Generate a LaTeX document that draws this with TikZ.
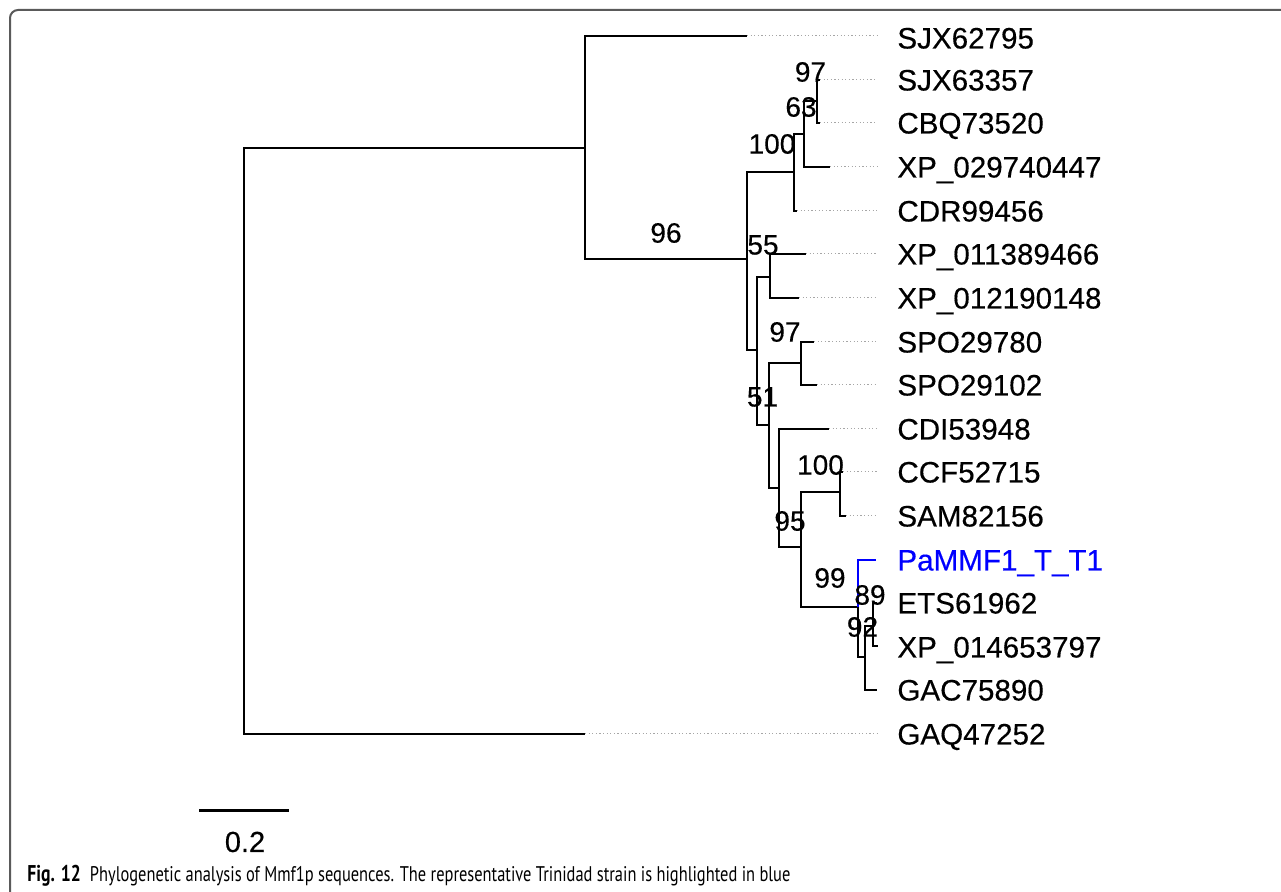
\documentclass[tikz,border=0pt]{standalone}
\usepackage{fontspec}
\setmainfont{Liberation Sans}
\newfontfamily\treefont[FakeBold=0.35]{Liberation Sans}
\newfontfamily\capfont{PT Sans}
\usetikzlibrary{calc}
\definecolor{mblue}{RGB}{0,0,255}
\definecolor{framegray}{RGB}{90,90,90}
\tikzset{
  br/.style={line width=1.05pt, black},
  bluebr/.style={line width=1.05pt, mblue},
  dots/.style={line width=0.5pt, gray!70, dash pattern=on 0.6pt off 1.2pt, shorten >=10pt},
  leaf/.style={anchor=base west, inner sep=0pt, font=\treefont\fontsize{14.8}{16}\selectfont},
  boot/.style={inner sep=0pt, font=\treefont\fontsize{14}{16}\selectfont},
  framestyle/.style={line width=1pt, framegray, rounded corners=4pt}
}
\begin{document}
\begin{tikzpicture}[x=0.5pt,y=-0.5pt]
\useasboundingbox (0,0) rectangle (1281,892);
\fill[white] (0,0) rectangle (1281,892);
% frame
\coordinate (fa) at (10,900);
\coordinate (fb) at (10,10);
\coordinate (fc) at (1290,10);
\draw[framestyle] (fa) -- (fb) -- (fc);

% internal nodes
\coordinate (R) at (244,441);
\coordinate (N96) at (585,148);
\coordinate (A) at (747,259);
\coordinate (B) at (794,172);
\coordinate (C) at (804,134);
\coordinate (D) at (817,101);
\coordinate (E) at (757,350);
\coordinate (F) at (770,277);
\coordinate (G) at (769,425);
\coordinate (H) at (801,363);
\coordinate (I) at (779,488);
\coordinate (J) at (801,547);
\coordinate (K) at (840,492);
\coordinate (L) at (858,607);
\coordinate (M) at (865,657);
\coordinate (N) at (873,626);

% tips
\foreach \i/\x/\y in {1/747/36, 2/820/80, 3/820/123, 4/830/167, 5/797/211,
  6/806/254, 7/799/298, 8/814/342, 9/817/385, 10/829/429, 11/843/472,
  12/846/516, 13/876/560, 14/877/603, 15/878/646, 16/877/690, 17/585/734}
  \coordinate (t\i) at (\x,\y);

% leaf labels
\foreach \i/\y/\t in {1/38/SJX62795, 2/80/SJX63357, 3/123/CBQ73520,
  4/167/XP\_029740447, 5/211/CDR99456, 6/254/XP\_011389466,
  7/298/XP\_012190148, 8/342/SPO29780, 9/385/SPO29102, 10/429/CDI53948,
  11/472/CCF52715, 12/516/SAM82156, 14/603/ETS61962,
  15/647/XP\_014653797, 16/690/GAC75890, 17/734/GAQ47252}
  \node[leaf] (l\i) at (897,\y+10.5) {\t};
\node[leaf, text=mblue] (l13) at (897,570.5) {PaMMF1\_T\_T1};

% dotted extensions
\foreach \i in {1,...,12,17}
  \draw[dots] (t\i) -- (t\i -| l\i.west);

% branches
\draw[br] (R) |- (N96);
\draw[br] (R) |- (t17);
\draw[br] (N96) |- (t1);
\draw[br] (N96) |- (A);
\draw[br] (A) |- (B);
\draw[br] (A) |- (E);
\draw[br] (B) |- (C);
\draw[br] (B) |- (t5);
\draw[br] (C) |- (D);
\draw[br] (C) |- (t4);
\draw[br] (D) |- (t2);
\draw[br] (D) |- (t3);
\draw[br] (E) |- (F);
\draw[br] (E) |- (G);
\draw[br] (F) |- (t6);
\draw[br] (F) |- (t7);
\draw[br] (G) |- (H);
\draw[br] (G) |- (I);
\draw[br] (H) |- (t8);
\draw[br] (H) |- (t9);
\draw[br] (I) |- (t10);
\draw[br] (I) |- (J);
\draw[br] (J) |- (K);
\draw[br] (J) |- (L);
\draw[br] (K) |- (t11);
\draw[br] (K) |- (t12);
\draw[br] (L) |- (M);
\draw[bluebr] (L) |- (t13);
\draw[br] (M) |- (N);
\draw[br] (M) |- (t16);
\draw[br] (N) |- (t14);
\draw[br] (N) |- (t15);

% bootstrap values
\node[boot] (b1) at (810.5,72) {97};
\node[boot] (b2) at (801,107) {63};
\node[boot] (b3) at (772,144) {100};
\node[boot] (b4) at (666,233) {96};
\node[boot] (b5) at (763,245) {55};
\node[boot] (b6) at (785,332) {97};
\node[boot] (b7) at (762.5,397) {51};
\node[boot] (b8) at (820.5,465) {100};
\node[boot] (b9) at (790,521) {95};
\node[boot] (b10) at (830,578) {99};
\node[boot] (b11) at (870,595) {89};
\node[boot] (b12) at (862.5,627) {92};

% scale bar
\coordinate (s1) at (199,811);
\coordinate (s2) at (289,811);
\draw[line width=1.5pt] (s1) -- (s2);
\node[boot, font=\treefont\fontsize{14.5}{16}\selectfont] (sl) at (245,842) {0.2};

% caption
\node[anchor=base west, inner sep=0pt] (cap) at (27,882)
  {\resizebox{381.5pt}{\height}{\capfont\fontsize{10.6}{12}\selectfont{\fontsize{11.4}{12}\selectfont\textbf{Fig. 12}}\hspace{0.55em}Phylogenetic analysis of Mmf1p sequences. The representative Trinidad strain is highlighted in blue}};
\end{tikzpicture}
\end{document}
